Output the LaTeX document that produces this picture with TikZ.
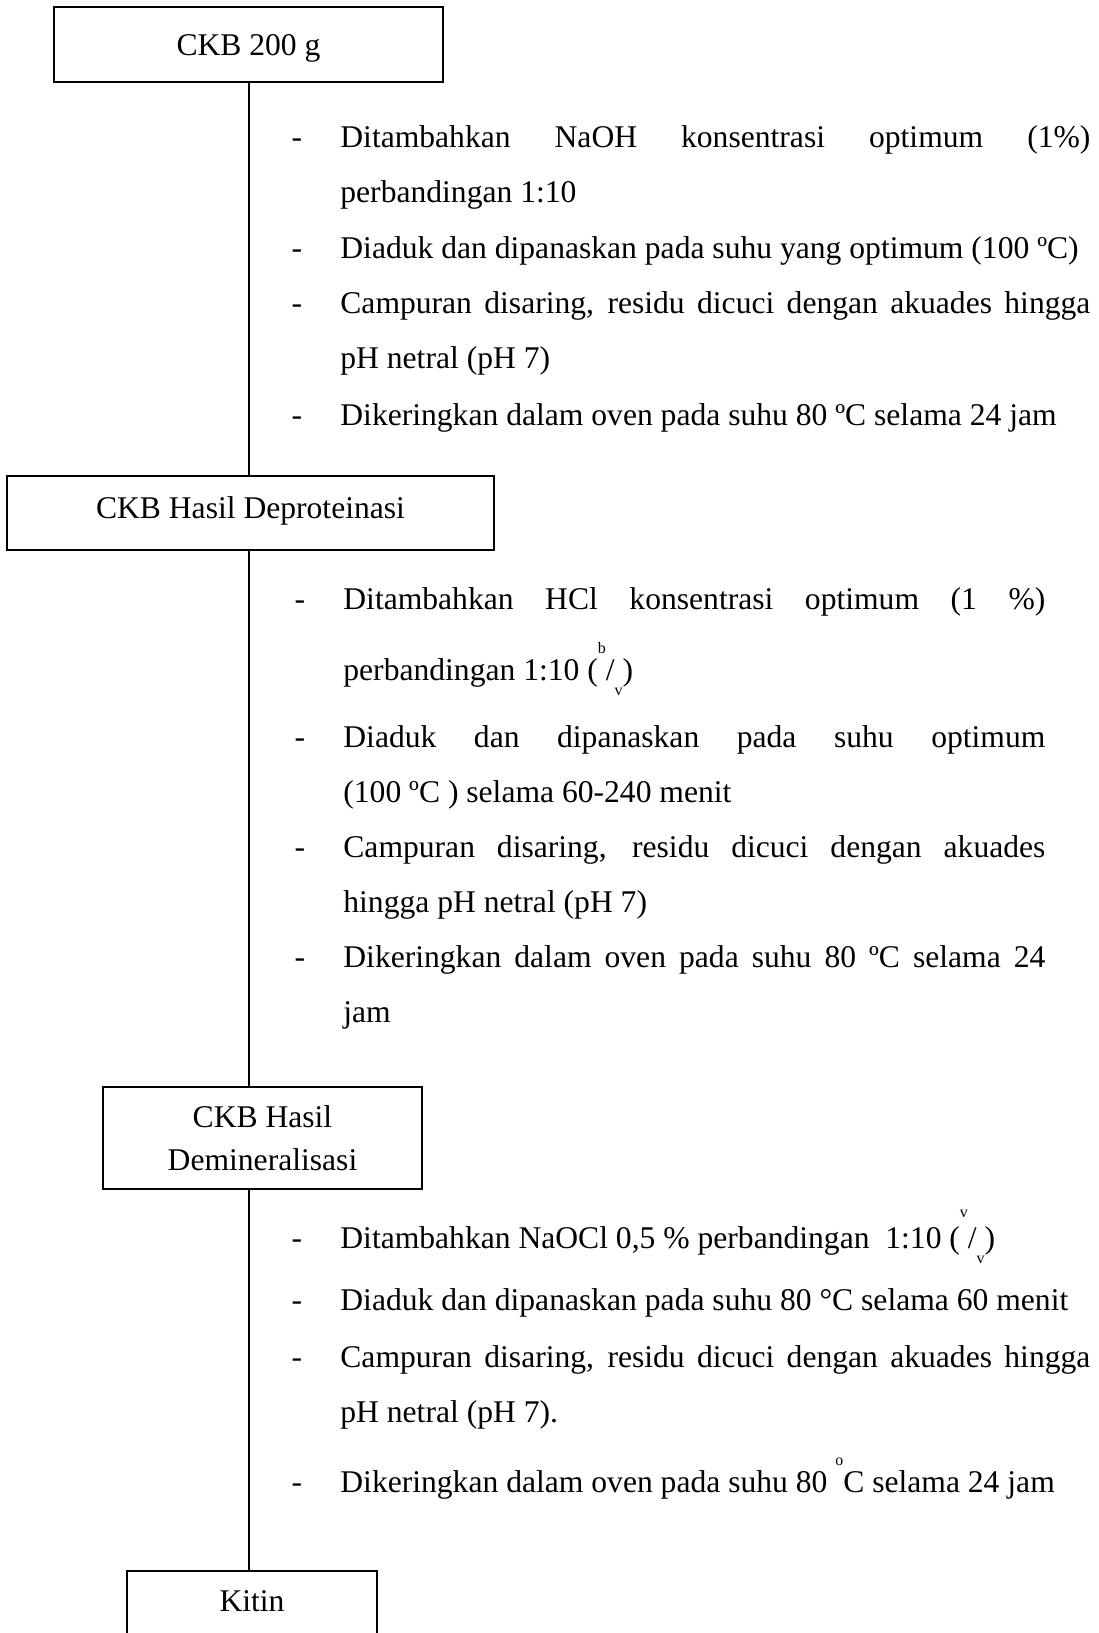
\documentclass[tikz,border=0pt]{standalone}
\usepackage{fontspec}
\setmainfont{Liberation Serif}
\hyphenpenalty=10000
\exhyphenpenalty=10000
\newcommand{\ratio}[3]{(\raisebox{#3}{\fontsize{8}{8}\selectfont #1}/\raisebox{-0.5em}{\fontsize{8}{8}\selectfont #2})}
\newcommand{\updeg}{\raisebox{0.85em}{\fontsize{8}{8}\selectfont o}}

\begin{document}
\begin{tikzpicture}[x=0.5pt, y=-0.5pt,
  every node/.style={font=\fontsize{15.8}{27.5}\selectfont, inner sep=0pt},
  stepbox/.style={draw, line width=1pt, align=center},
  dashmark/.style={anchor=base},
  item/.style={anchor=base west},
  wideitem/.style={anchor=base west, text width=375pt, align=justify},
  narrowitem/.style={anchor=base west, text width=351pt, align=justify},
  spine/.style={line width=1pt},
]

\useasboundingbox (0,0) rectangle (1098,1633);
\clip (0,0) rectangle (1098,1633);

% Boxes
\node[stepbox, minimum width=194.5pt, text height=24pt, text depth=13.5pt, anchor=base]
  (raw) at (248.5,55) {CKB 200 g};
\node[stepbox, minimum width=243.5pt, text height=21pt, text depth=16pt, anchor=base]
  (dep) at (250.5,518) {CKB Hasil Deproteinasi};
\node[stepbox, minimum width=159.5pt, minimum height=51pt, font=\fontsize{15.8}{21.5}\selectfont]
  (dem) at (262.5,1138) {CKB Hasil\\Demineralisasi};
\node[stepbox, minimum width=125pt, text height=20pt, text depth=30pt, anchor=base]
  (kitin) at (252,1611) {Kitin};

% Connectors
\draw[spine] (raw.south) -- (raw.south |- dep.north);
\draw[spine] (dep.south -| raw.south) -- (dem.north -| raw.south);
\draw[spine] (dem.south -| raw.south) -- (kitin.north -| raw.south);

% Deproteinasi steps
\foreach \y in {147,258,313,425}
  \node[dashmark] (dash-a\y) at (297,\y) {-};
\node[wideitem] (a1) at (340,147)
  {Ditambahkan NaOH konsentrasi optimum (1\%)\linebreak perbandingan 1:10};
\node[item] (a2) at (340,258)
  {Diaduk dan dipanaskan pada suhu yang optimum (100 ºC)};
\node[wideitem] (a3) at (340,313)
  {Campuran disaring, residu dicuci dengan akuades hingga\linebreak pH netral (pH 7)};
\node[item] (a4) at (340,425)
  {Dikeringkan dalam oven pada suhu 80 ºC selama 24 jam};

% Demineralisasi steps
\foreach \y in {609,747,857,967}
  \node[dashmark] (dash-b\y) at (300,\y) {-};
\node[narrowitem] (b1) at (343,609)
  {Ditambahkan HCl konsentrasi optimum (1 \%)\vspace{8pt}\linebreak perbandingan 1:10 \ratio{b}{v}{0.85em}};
\node[narrowitem] (b2) at (343,747)
  {Diaduk dan dipanaskan pada suhu optimum\linebreak (100 ºC ) selama 60-240 menit};
\node[narrowitem] (b3) at (343,857)
  {Campuran disaring, residu dicuci dengan akuades\linebreak hingga pH netral (pH 7)};
\node[narrowitem] (b4) at (343,967)
  {Dikeringkan dalam oven pada suhu 80 ºC selama 24\linebreak jam};

% Depigmentasi steps
\foreach \y in {1248,1310,1367,1492}
  \node[dashmark] (dash-c\y) at (297,\y) {-};
\node[item] (c1) at (340,1248)
  {Ditambahkan NaOCl 0,5 \% perbandingan\ \ 1:10 \ratio{v}{v}{0.95em}};
\node[item] (c2) at (340,1310)
  {Diaduk dan dipanaskan pada suhu 80 °C selama 60 menit};
\node[wideitem] (c3) at (340,1367)
  {Campuran disaring, residu dicuci dengan akuades hingga\linebreak pH netral (pH 7).};
\node[item] (c4) at (340,1492)
  {Dikeringkan dalam oven pada suhu 80 \updeg C selama 24 jam};

\end{tikzpicture}
\end{document}
